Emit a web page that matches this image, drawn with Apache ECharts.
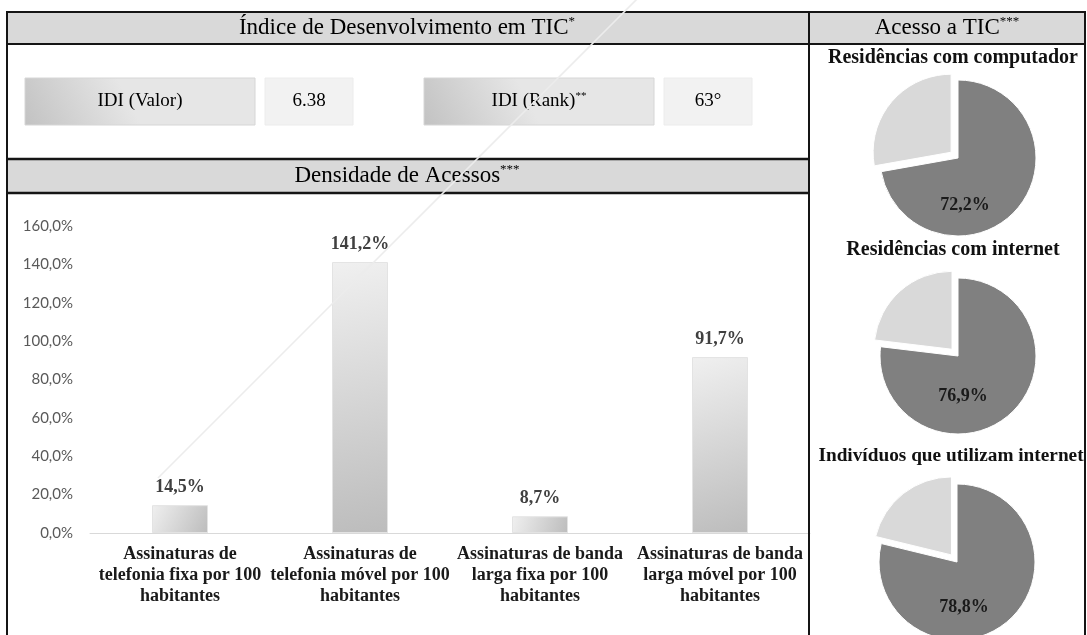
<!DOCTYPE html>
<html>
<head>
<meta charset="utf-8">
<script src="https://cdn.jsdelivr.net/npm/echarts@6/dist/echarts.min.js"></script>
<style>
  html, body { margin: 0; padding: 0; background: #ffffff; }
  #chart { width: 1087px; height: 635px; }
</style>
</head>
<body>
<div id="chart"></div>
<script>
// Densidade de acessos (por 100 habitantes)
const categories = [
  'Assinaturas de\ntelefonia fixa por 100\nhabitantes',
  'Assinaturas de\ntelefonia móvel por 100\nhabitantes',
  'Assinaturas de banda\nlarga fixa por 100\nhabitantes',
  'Assinaturas de banda\nlarga móvel por 100\nhabitantes'
];
const densityValues = [14.5, 141.2, 8.7, 91.7];
const yMin = 0;
const yMax = 160;
const yStep = 20;

// Acesso a TIC
const pieTitles = [
  'Residências com computador',
  'Residências com internet',
  'Indivíduos que utilizam internet'
];
const pieYes = [72.2, 76.9, 78.8];
const pieNo = [27.8, 23.1, 21.2];

// Índice de Desenvolvimento em TIC
const idiLabels = ['IDI (Valor)', 'IDI (Rank)'];
const idiValues = ['6.38', '63°'];

const SERIF = '"Liberation Serif", "Times New Roman", serif';
const SANS = 'Lato, "Noto Sans", sans-serif';
const pct = v => v.toFixed(1).replace('.', ',') + '%';

const chart = echarts.init(document.getElementById('chart'), null, { renderer: 'canvas' });

const frame = '#151515';
const lineEl = (x1, y1, x2, y2, w) => ({
  type: 'line', z: 20,
  shape: { x1, y1, x2, y2 },
  style: { stroke: frame, lineWidth: w || 2 }
});
const headerText = (x, y, main, sup) => ({
  type: 'text', z: 30, x, y,
  style: {
    text: '{m|' + main + '}{s|' + sup + '}',
    align: 'center', verticalAlign: 'middle',
    rich: {
      m: { fontFamily: SERIF, fontSize: 23, color: '#262626', lineHeight: 26 },
      s: { fontFamily: SERIF, fontSize: 13, color: '#262626', verticalAlign: 'top', lineHeight: 26 }
    }
  }
});
const boxGrad = {
  type: 'linear', x: 0.4, y: 0, x2: 0, y2: 1,
  colorStops: [{ offset: 0, color: '#e6e6e6' }, { offset: 1, color: '#c2c2c2' }]
};
const idiBoxes = [
  { x: 25, w: 230 }, { x: 265, w: 88 }, { x: 424, w: 230 }, { x: 664, w: 88 }
];
const idiTexts = [idiLabels[0], idiValues[0], idiLabels[1], idiValues[1]];
const idiSup = ['', '', '**', ''];

const graphics = [
  // header bands
  { type: 'rect', z: 5, shape: { x: 7, y: 12, width: 1078, height: 32 }, style: { fill: '#d9d9d9' } },
  { type: 'rect', z: 5, shape: { x: 7, y: 159, width: 802, height: 34 }, style: { fill: '#d9d9d9' } },
  // frame lines
  lineEl(6, 12, 1086, 12),
  lineEl(6, 44, 1086, 44),
  lineEl(6, 159, 809, 159, 2.5),
  lineEl(6, 193, 809, 193, 2.5),
  lineEl(7, 11, 7, 635),
  lineEl(809, 11, 809, 635),
  lineEl(1085, 11, 1085, 635),
  headerText(407, 28, 'Índice de Desenvolvimento em TIC', '*'),
  headerText(947, 28, 'Acesso a TIC', '***'),
  headerText(407, 176, 'Densidade de Acessos', '***')
];

idiBoxes.forEach((b, i) => {
  const isLabel = i % 2 === 0;
  graphics.push({
    type: 'rect', z: 10,
    shape: { x: b.x, y: 78, width: b.w, height: 47 },
    style: isLabel
      ? { fill: boxGrad, stroke: '#d6d6d6', lineWidth: 1 }
      : { fill: '#f2f2f2', stroke: '#ececec', lineWidth: 1 }
  });
  graphics.push({
    type: 'text', z: 12, x: b.x + b.w / 2, y: 101.5,
    style: {
      text: '{m|' + idiTexts[i] + '}' + (idiSup[i] ? '{s|' + idiSup[i] + '}' : ''),
      align: 'center', verticalAlign: 'middle',
      rich: {
        m: { fontFamily: SERIF, fontSize: 19, color: '#262626', lineHeight: 22 },
        s: { fontFamily: SERIF, fontSize: 11, color: '#262626', verticalAlign: 'top', lineHeight: 22 }
      }
    }
  });
});

// pie headings
const pieLayout = [
  { cx: 958, cy: 158, tx: 953, ty: 58, fs: 20, dx: 7, dy: 47 },
  { cx: 958, cy: 356, tx: 953, ty: 250, fs: 20, dx: 5, dy: 40 },
  { cx: 957, cy: 562, tx: 951, ty: 456, fs: 19.3, dx: 7, dy: 45 }
];
pieTitles.forEach((t, i) => {
  graphics.push({
    type: 'text', z: 12, x: pieLayout[i].tx, y: pieLayout[i].ty,
    style: {
      text: t, align: 'center', verticalAlign: 'middle',
      fontFamily: SERIF, fontWeight: 'bold', fontSize: pieLayout[i].fs, fill: '#111111'
    }
  });
});

// faint diagonal stroke across the left panel
graphics.push({
  type: 'line', z: 40, silent: true,
  shape: { x1: 640, y1: -4, x2: 158, y2: 478 },
  style: { stroke: '#ececec', lineWidth: 1.6 }
});

const pieSeries = pieYes.map((v, i) => ({
  type: 'pie',
  center: [pieLayout[i].cx, pieLayout[i].cy],
  radius: 78,
  startAngle: 90,
  clockwise: true,
  silent: true,
  animation: false,
  selectedMode: 'multiple',
  selectedOffset: 9,
  itemStyle: { borderColor: '#ffffff', borderWidth: 1 },
  label: {
    show: true, position: 'center',
    formatter: p => pct(p.value),
    fontFamily: SERIF, fontWeight: 'bold', fontSize: 18, color: '#1a1a1a'
  },
  labelLayout: { dx: pieLayout[i].dx, dy: pieLayout[i].dy },
  labelLine: { show: false },
  emphasis: { disabled: true },
  data: [
    { name: 'Sim', value: v, itemStyle: { color: '#808080' } },
    { name: 'Não', value: pieNo[i], selected: true, itemStyle: { color: '#d9d9d9' }, label: { show: false } }
  ]
}));

chart.setOption({
  backgroundColor: '#ffffff',
  animation: false,
  graphic: graphics,
  grid: { left: 90, right: 277, top: 226, bottom: 102, containLabel: false },
  xAxis: {
    type: 'category',
    data: categories,
    axisLine: { lineStyle: { color: '#d9d9d9', width: 1 } },
    axisTick: { show: false },
    axisLabel: {
      interval: 0, margin: 11,
      fontFamily: SERIF, fontWeight: 'bold', fontSize: 18, lineHeight: 21, color: '#1a1a1a'
    }
  },
  yAxis: {
    type: 'value',
    min: yMin, max: yMax, interval: yStep,
    axisLine: { show: false },
    axisTick: { show: false },
    splitLine: { show: false },
    axisLabel: {
      margin: 17,
      formatter: v => pct(v),
      fontFamily: SANS, fontSize: 15, color: '#595959'
    }
  },
  series: [
    {
      type: 'bar',
      data: densityValues,
      barWidth: 56,
      silent: true,
      itemStyle: {
        color: {
          type: 'linear', x: 0, y: 0, x2: 1, y2: 1,
          colorStops: [{ offset: 0, color: '#f0f0f0' }, { offset: 1, color: '#bcbcbc' }]
        },
        borderColor: '#e3e3e3', borderWidth: 1
      },
      label: {
        show: true, position: 'top', distance: 9,
        formatter: p => pct(p.value),
        fontFamily: SERIF, fontWeight: 'bold', fontSize: 18, color: '#404040'
      }
    }
  ].concat(pieSeries)
});
</script>
</body>
</html>
